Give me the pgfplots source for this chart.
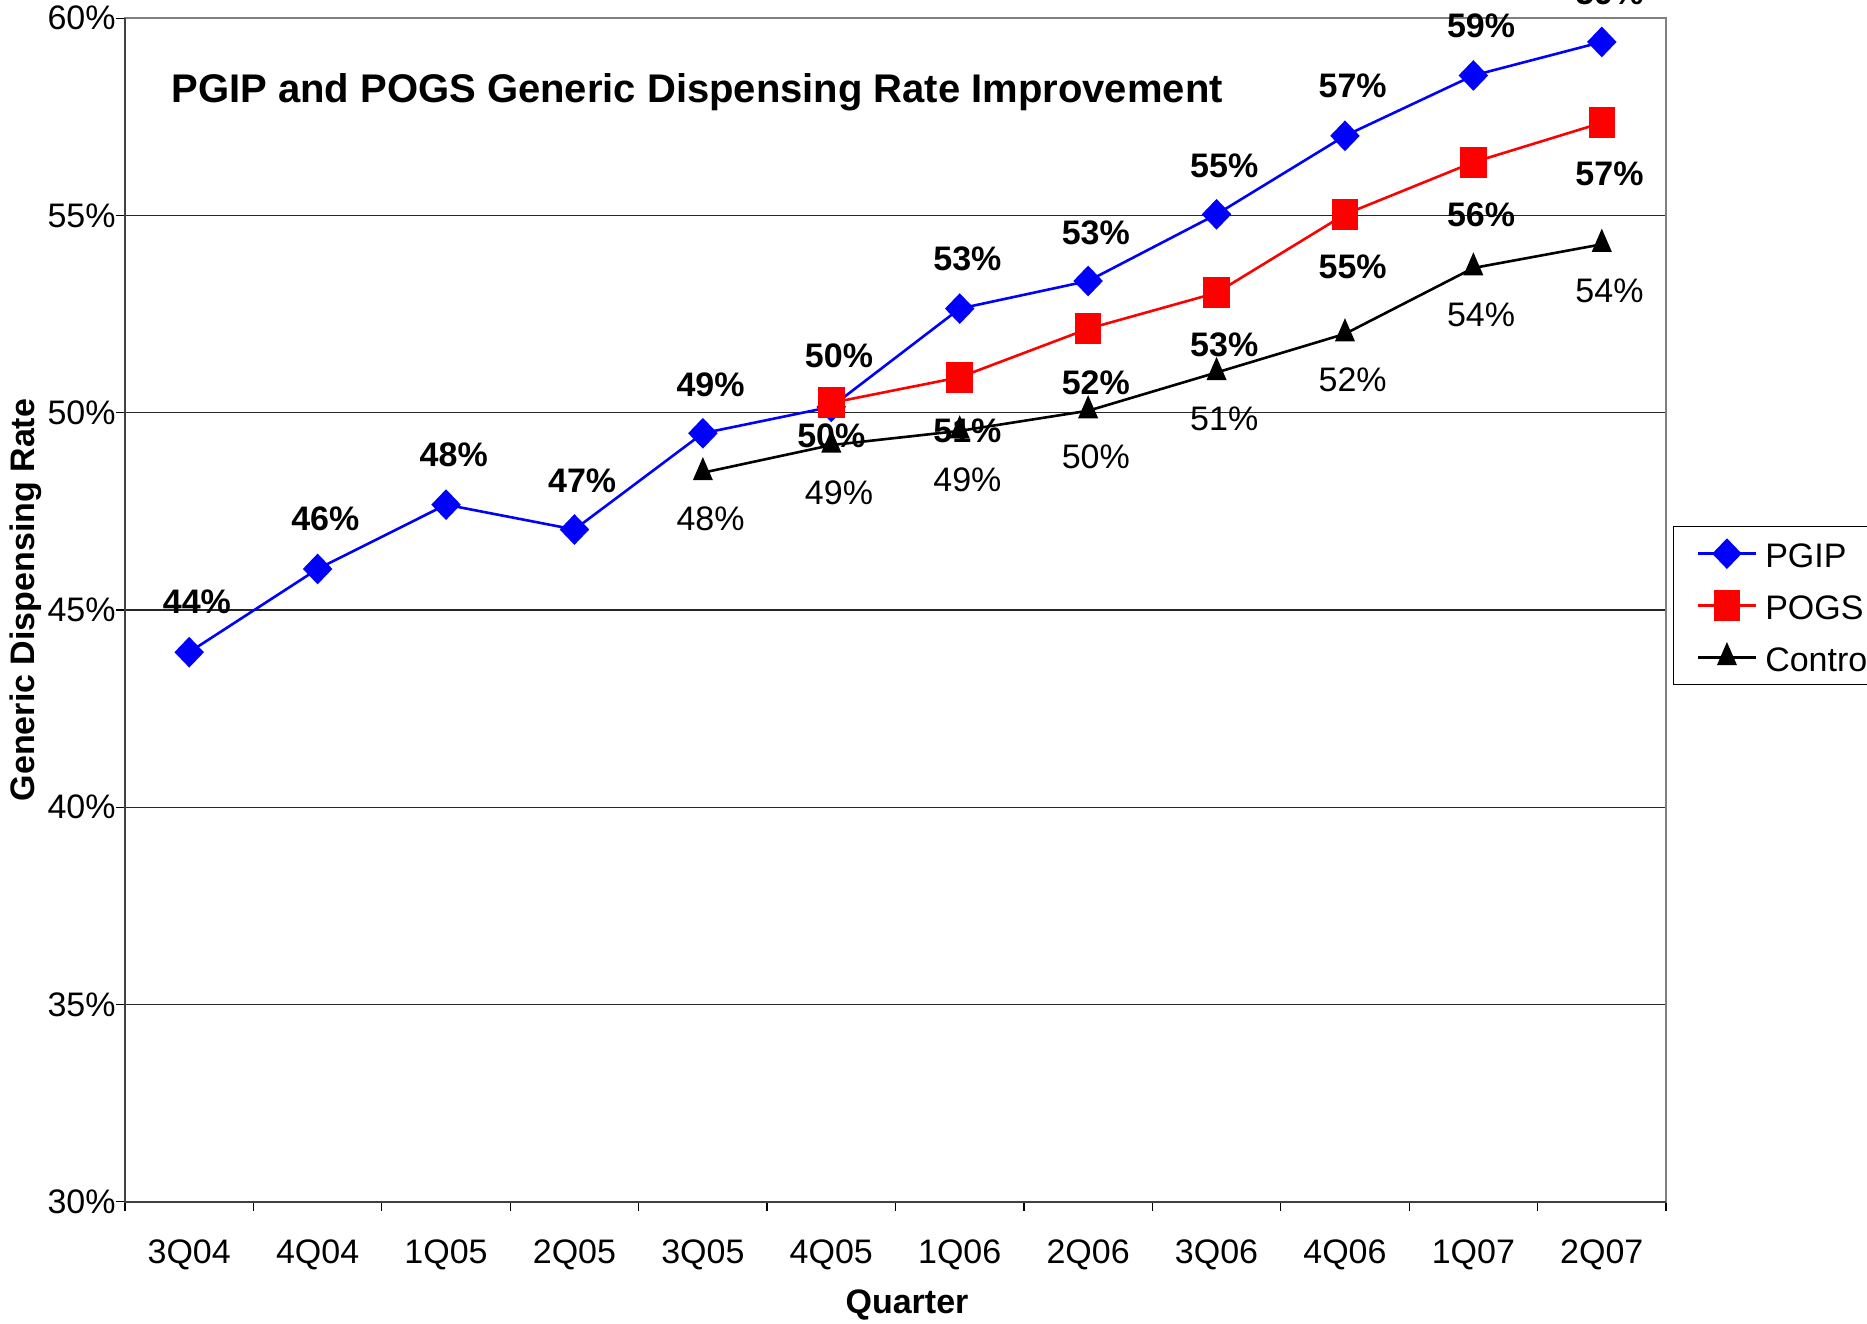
\documentclass[border=0pt]{standalone}
\usepackage{fontspec}
\setmainfont{Liberation Sans}
\usepackage{pgfplots}
\pgfplotsset{compat=1.18}
\definecolor{pgipblue}{RGB}{0,0,255}
\definecolor{pogsred}{RGB}{255,0,0}
\newcommand{\lbl}{\fontsize{17}{20}\selectfont}
\begin{document}
\begin{tikzpicture}
\begin{axis}[
  scale only axis,
  width=770.5pt, height=591.7pt,
  xmin=-0.5, xmax=11.5, ymin=30, ymax=60,
  clip=false,
  font=\lbl,
  /pgf/number format/assume math mode=true,
  tick pos=left,
  xtick={-0.5,0.5,...,11.5},
  xticklabels={},
  extra x ticks={0,1,...,11},
  extra x tick labels={3Q04,4Q04,1Q05,2Q05,3Q05,4Q05,1Q06,2Q06,3Q06,4Q06,1Q07,2Q07},
  extra x tick style={major tick length=0pt, xticklabel style={anchor=north, inner sep=0pt, yshift=-18.9pt}},
  ytick={30,35,...,60},
  yticklabel={\pgfmathprintnumber{\tick}\%},
  yticklabel style={anchor=east, inner sep=0pt, xshift=0pt},
  ymajorgrids,
  major grid style={black!85, line width=0.55pt},
  tick align=outside,
  major tick length=4.5pt,
  tick style={black, line width=0.6pt},
  axis line style={black!50, line width=1pt},
  legend style={at={(1.0045,0.571)}, anchor=north west, draw=black, line width=0.7pt,
    inner xsep=11.5pt, inner ysep=0.5pt, font=\lbl, cells={anchor=west},
    nodes={inner xsep=4pt, inner ysep=4.5pt, text height=15.5pt, text depth=1.5pt}},
  legend image code/.code={\draw[mark repeat=2, mark phase=2] plot coordinates {(0pt,0pt) (14.5pt,0pt) (29pt,0pt)};},
]
\coordinate (SW) at (rel axis cs:0,0);
\coordinate (NE) at (rel axis cs:1,1);
\draw[black!75, line width=1pt] (rel axis cs:0,1) -- (rel axis cs:0,0) -- (rel axis cs:1,0);

% data labels (drawn first so that the lines lie over them)
\addplot[forget plot, draw=none, mark=none, point meta=explicit symbolic,
  nodes near coords={\pgfplotspointmeta\%},
  every node near coord/.append style={anchor=center, font=\bfseries\lbl, inner sep=0pt}]
  table[meta=l] {
x y l
0.06 45.20 44
1.06 47.31 46
2.06 48.94 48
3.06 48.27 47
4.06 50.71 49
5.06 51.45 50
6.06 53.91 53
7.06 54.57 53
8.06 56.26 55
9.06 58.28 57
10.06 59.82 59
11.06 60.65 59
};
\addplot[forget plot, draw=none, mark=none, point meta=explicit symbolic,
  nodes near coords={\pgfplotspointmeta\%},
  every node near coord/.append style={anchor=center, font=\bfseries\lbl, inner sep=0pt}]
  table[meta=l] {
x y l
5.00 49.42 50
6.06 49.54 51
7.06 50.77 52
8.06 51.71 53
9.06 53.70 55
10.06 55.03 56
11.06 56.05 57
};
\addplot[forget plot, draw=none, mark=none, point meta=explicit symbolic,
  nodes near coords={\pgfplotspointmeta\%},
  every node near coord/.append style={anchor=center, font=\lbl, inner sep=0pt}]
  table[meta=l] {
x y l
4.06 47.31 48
5.06 47.97 49
6.06 48.30 49
7.06 48.88 50
8.06 49.84 51
9.06 50.83 52
10.06 52.49 54
11.06 53.10 54
};

\addplot[pgipblue, line width=1.3pt, mark=diamond*, mark size=6.75pt, mark options={xscale=1.28, solid}]
  coordinates {(0,43.93) (1,46.04) (2,47.67) (3,47.04) (4,49.48) (5,50.15) (6,52.64) (7,53.34) (8,55.03) (9,57.02) (10,58.55) (11,59.40)};
\addlegendentry{PGIP}
\addplot[pogsred, line width=1.3pt, mark=square*, mark size=6pt, mark options={yscale=1.18, solid}]
  coordinates {(5,50.25) (6,50.90) (7,52.13) (8,53.04) (9,55.03) (10,56.35) (11,57.35)};
\addlegendentry{POGS}
\addplot[black, line width=1.3pt, mark=triangle*, mark size=6.2pt, mark options={xscale=0.75, solid}]
  coordinates {(4,48.48) (5,49.18) (6,49.54) (7,50.05) (8,51.02) (9,52.00) (10,53.67) (11,54.27)};
\addlegendentry{Control}

\node[anchor=base west, inner sep=0pt, font=\bfseries\fontsize{20}{24}\selectfont] at ([xshift=23pt,yshift=-42pt]rel axis cs:0,1) {PGIP and POGS Generic Dispensing Rate Improvement};
\node[font=\bfseries\lbl] at ([xshift=5.75pt,yshift=-51.5pt]rel axis cs:0.5,0) {Quarter};
\node[font=\bfseries\lbl, rotate=90] at ([xshift=-49.5pt,yshift=5pt]rel axis cs:0,0.5) {Generic Dispensing Rate};
\end{axis}
\pgfresetboundingbox
\path[use as bounding box] ([shift={(-62.5pt,-61.15pt)}]SW) rectangle ([shift={(100.5pt,9.15pt)}]NE);
\end{tikzpicture}
\end{document}
